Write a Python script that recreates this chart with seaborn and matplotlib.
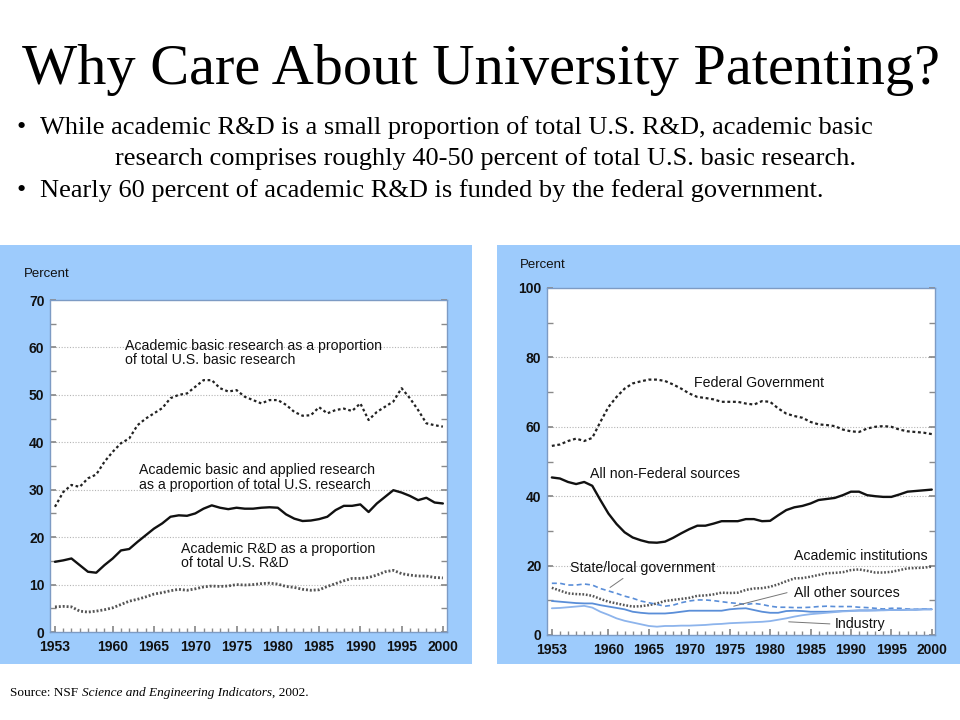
import matplotlib
matplotlib.use("Agg")
import matplotlib.pyplot as plt
import seaborn as sns
import pandas as pd
from matplotlib.patches import Rectangle

# ---- data ----
years = list(range(1953, 2001))

basic_share = [26.4, 29.5, 31.0, 30.6, 32.4, 33.2, 35.9, 38.0, 39.8, 40.8,
               43.6, 45.0, 46.1, 47.2, 49.3, 50.0, 50.3, 51.7, 53.1, 53.1,
               51.4, 50.7, 51.0, 49.6, 48.9, 48.2, 48.9, 48.9, 47.9, 46.4,
               45.6, 45.7, 47.4, 46.1, 46.8, 47.1, 46.6, 48.2, 44.7, 46.4,
               47.5, 48.6, 51.4, 49.3, 46.8, 44.0, 43.6, 43.3]
basic_applied_share = [14.8, 15.1, 15.5, 14.1, 12.7, 12.5, 14.1, 15.5, 17.2, 17.5,
                       19.0, 20.4, 21.8, 22.9, 24.3, 24.6, 24.5, 25.0, 26.0, 26.7,
                       26.2, 25.9, 26.2, 26.0, 26.0, 26.2, 26.3, 26.2, 24.8, 23.9,
                       23.4, 23.5, 23.8, 24.3, 25.7, 26.6, 26.6, 26.9, 25.3, 27.1,
                       28.5, 29.9, 29.4, 28.7, 27.8, 28.3, 27.3, 27.1]
rd_share = [5.3, 5.4, 5.3, 4.4, 4.2, 4.4, 4.7, 5.1, 5.8, 6.5,
            6.9, 7.4, 8.0, 8.3, 8.7, 9.0, 8.8, 9.1, 9.5, 9.7,
            9.6, 9.7, 10.0, 9.9, 10.0, 10.2, 10.3, 10.1, 9.6, 9.4,
            9.0, 8.8, 8.9, 9.6, 10.2, 10.8, 11.3, 11.3, 11.5, 12.0,
            12.7, 13.0, 12.3, 12.0, 11.8, 11.8, 11.5, 11.4]

federal = [54.5, 54.9, 55.9, 56.6, 55.9, 56.8, 61.4, 65.7, 68.6, 71.0,
           72.5, 73.1, 73.6, 73.6, 73.2, 72.2, 71.0, 69.6, 68.6, 68.3,
           67.9, 67.2, 67.2, 67.2, 66.7, 66.4, 67.4, 67.2, 65.3, 63.8,
           63.1, 62.6, 61.4, 60.7, 60.5, 60.2, 59.2, 58.7, 58.5, 59.5,
           60.0, 60.2, 60.0, 59.2, 58.7, 58.5, 58.3, 57.9]
non_federal = [45.4, 45.1, 44.1, 43.5, 44.1, 43.0, 38.9, 35.0, 32.0, 29.6,
               28.1, 27.3, 26.7, 26.6, 26.9, 28.0, 29.3, 30.5, 31.5, 31.5,
               32.1, 32.8, 32.8, 32.8, 33.4, 33.4, 32.8, 32.9, 34.5, 36.0,
               36.8, 37.2, 37.9, 38.9, 39.2, 39.5, 40.3, 41.3, 41.3, 40.3,
               40.0, 39.8, 39.8, 40.5, 41.3, 41.5, 41.7, 41.9]
academic_inst = [13.6, 12.8, 12.0, 11.8, 11.7, 11.3, 10.4, 9.6, 9.1, 8.6,
                 8.2, 8.3, 8.6, 9.1, 9.8, 10.1, 10.4, 10.7, 11.3, 11.4,
                 11.7, 12.2, 12.1, 12.2, 13.0, 13.4, 13.5, 13.9, 14.6, 15.5,
                 16.3, 16.4, 16.8, 17.3, 17.8, 17.9, 18.1, 18.7, 18.9, 18.5,
                 18.0, 18.0, 18.2, 18.7, 19.2, 19.3, 19.4, 19.7]
state_local = [14.9, 14.9, 14.4, 14.4, 14.7, 14.4, 13.4, 12.7, 12.0, 11.2,
               10.6, 9.8, 9.3, 8.8, 8.3, 8.6, 9.3, 9.8, 10.1, 10.1,
               9.9, 9.6, 9.3, 9.1, 8.8, 9.1, 8.8, 8.3, 8.0, 8.0,
               7.9, 7.9, 8.0, 8.2, 8.3, 8.2, 8.2, 8.2, 8.0, 7.9,
               7.7, 7.5, 7.7, 7.7, 7.5, 7.4, 7.5, 7.5]
other_sources = [9.8, 9.6, 9.4, 9.2, 9.1, 9.1, 8.6, 8.2, 7.8, 7.4,
                 6.7, 6.4, 6.2, 6.2, 6.2, 6.4, 6.7, 7.0, 7.0, 7.0,
                 7.0, 7.0, 7.4, 7.6, 7.7, 7.2, 6.7, 6.4, 6.4, 6.9,
                 7.0, 6.9, 6.7, 6.7, 6.7, 6.8, 6.9, 7.0, 7.1, 7.1,
                 7.1, 7.2, 7.2, 7.2, 7.3, 7.3, 7.4, 7.4]
industry = [7.7, 7.8, 8.0, 8.2, 8.4, 7.9, 6.7, 5.8, 4.8, 4.1,
            3.6, 3.1, 2.6, 2.4, 2.6, 2.6, 2.7, 2.7, 2.8, 2.9,
            3.1, 3.2, 3.4, 3.5, 3.6, 3.7, 3.8, 4.0, 4.4, 4.8,
            5.3, 5.7, 6.0, 6.2, 6.4, 6.6, 6.8, 6.9, 7.0, 7.0,
            7.1, 7.1, 7.2, 7.2, 7.3, 7.3, 7.4, 7.4]

year_ticks = [1953, 1960, 1965, 1970, 1975, 1980, 1985, 1990, 1995, 2000]

df = pd.DataFrame({
    "year": years, "basic": basic_share, "applied": basic_applied_share,
    "rd": rd_share, "federal": federal, "nonfed": non_federal,
    "acad": academic_inst, "state": state_local, "other": other_sources,
    "industry": industry,
})

sns.set_theme(style="white")
plt.rcParams["font.family"] = ["Liberation Sans", "DejaVu Sans"]
plt.rcParams["text.color"] = "black"

BG = "#9dcbfc"
SPINE = "#7d9bc4"

fig = plt.figure(figsize=(9.6, 7.2), dpi=100)
W, H = 960, 720


def px(x0, y0, x1, y1):
    # pixel box (top-left origin) -> figure fraction rect
    return [x0 / W, 1 - y1 / H, (x1 - x0) / W, (y1 - y0) / H]


# light blue panels
for x0, x1 in [(0, 472), (497, 960)]:
    r = px(x0, 245, x1, 664)
    fig.patches.append(Rectangle((r[0], r[1]), r[2], r[3], transform=fig.transFigure,
                                 facecolor=BG, edgecolor="none", zorder=-10))

# titles and bullets
fig.text(481 / W, 1 - 70 / H, "Why Care About University Patenting?", ha="center", va="center",
         fontsize=42, family="Liberation Serif")
bullet_kw = dict(fontsize=19, family="Liberation Serif", va="center")
fig.text(17 / W, 1 - 128 / H, "\u2022", **bullet_kw)
fig.text(40 / W, 1 - 128 / H,
         "While academic R&D is a small proportion of total U.S. R&D, academic basic", **bullet_kw)
fig.text(115 / W, 1 - 159 / H,
         "research comprises roughly 40-50 percent of total U.S. basic research.", **bullet_kw)
fig.text(17 / W, 1 - 191 / H, "\u2022", **bullet_kw)
fig.text(40 / W, 1 - 191 / H,
         "Nearly 60 percent of academic R&D is funded by the federal government.", **bullet_kw)

src = fig.text(10 / W, 1 - 693 / H, "Source: NSF ", fontsize=9.5, family="Liberation Serif",
               va="center")
src2 = fig.text(0, 0, "Science and Engineering Indicators", fontsize=9.5, style="italic",
                family="Liberation Serif", va="center")
src3 = fig.text(0, 0, ", 2002.", fontsize=9.5, family="Liberation Serif", va="center")


def style_axes(ax, ymax, ymajor, yminor, xlim):
    ax.set_facecolor("white")
    ax.set_xlim(*xlim)
    ax.set_ylim(0, ymax)
    ax.set_xticks(year_ticks)
    ax.set_xticks(years, minor=True)
    ax.set_yticks(range(0, ymax + 1, ymajor))
    ax.set_yticks(range(0, ymax + 1, yminor), minor=True)
    ax.set_xlabel("")
    ax.set_ylabel("")
    for s in ax.spines.values():
        s.set_color(SPINE)
        s.set_linewidth(1.0)
        s.set_visible(True)
    ax.tick_params(axis="both", which="both", direction="in", color="#8a8a8a",
                   labelsize=10, labelcolor="#111111")
    ax.tick_params(axis="y", which="both", right=True, left=True)
    ax.tick_params(axis="x", which="both", bottom=True, top=False)
    ax.tick_params(axis="x", which="major", length=4, pad=6)
    ax.tick_params(axis="x", which="minor", length=3)
    ax.tick_params(axis="y", which="major", length=4, pad=4)
    ax.tick_params(axis="y", which="minor", length=4)
    for lab in ax.get_xticklabels() + ax.get_yticklabels():
        lab.set_fontweight("bold")
    for v in range(ymajor, ymax, ymajor):
        ax.axhline(v, color="#b5b5b5", lw=0.8, ls=(0, (1, 1.5)), zorder=0)


# ---- left chart ----
axl = fig.add_axes(px(50, 300, 447, 632))
sns.lineplot(data=df, x="year", y="basic", ax=axl, color="#222222", lw=1.6, ls=(0, (1.2, 1.2)))
sns.lineplot(data=df, x="year", y="applied", ax=axl, color="#111111", lw=1.7)
sns.lineplot(data=df, x="year", y="rd", ax=axl, color="#555555", lw=2.0, ls=(0, (0.7, 0.7)))
style_axes(axl, 70, 10, 5, (1952.4, 2000.5))

ann = dict(fontsize=10.2, va="top", ha="left", color="#111111", linespacing=1.05)
axl.text(1961.5, 61.8, "Academic basic research as a proportion\nof total U.S. basic research", **ann)
axl.text(1963.2, 35.6, "Academic basic and applied research\nas a proportion of total U.S. research", **ann)
axl.text(1968.3, 19.0, "Academic R&D as a proportion\nof total U.S. R&D", **ann)
fig.text(24 / W, 1 - 274 / H, "Percent", fontsize=9.5, va="center", color="#111111")

# ---- right chart ----
axr = fig.add_axes(px(547, 288, 935, 635))
sns.lineplot(data=df, x="year", y="federal", ax=axr, color="#222222", lw=1.6, ls=(0, (1.3, 1.2)))
sns.lineplot(data=df, x="year", y="nonfed", ax=axr, color="#111111", lw=1.7)
sns.lineplot(data=df, x="year", y="acad", ax=axr, color="#555555", lw=1.8, ls=(0, (0.7, 0.7)))
sns.lineplot(data=df, x="year", y="state", ax=axr, color="#5a8ed8", lw=1.2, ls=(0, (3, 2)))
sns.lineplot(data=df, x="year", y="other", ax=axr, color="#5a8ed8", lw=1.3)
sns.lineplot(data=df, x="year", y="industry", ax=axr, color="#8db4ec", lw=1.3)
style_axes(axr, 100, 20, 10, (1952.4, 2000.4))

ann_c = dict(fontsize=10.2, va="center", ha="left", color="#111111")
axr.text(1970.6, 72.6, "Federal Government", **ann_c)
axr.text(1957.7, 46.3, "All non-Federal sources", **ann_c)
axr.text(1983.0, 22.7, "Academic institutions", **ann_c)
axr.text(1955.2, 19.4, "State/local government", **ann_c)
axr.text(1982.9, 12.0, "All other sources", **ann_c)
axr.text(1988.0, 3.2, "Industry", **ann_c)
lead = dict(color="#777777", lw=0.7)
axr.plot([1960.2, 1961.8], [13.7, 16.3], **lead)
axr.plot([1975.5, 1982.1], [8.3, 12.2], **lead)
axr.plot([1982.3, 1987.4], [3.8, 3.2], **lead)
fig.text(520 / W, 1 - 265 / H, "Percent", fontsize=9.5, va="center", color="#111111")

# place source pieces one after another
fig.canvas.draw()
r = fig.canvas.get_renderer()
bb = src.get_window_extent(r)
src2.set_position((bb.x1 / W, 1 - 693 / H))
fig.canvas.draw()
bb2 = src2.get_window_extent(r)
src3.set_position((bb2.x1 / W, 1 - 693 / H))

fig.savefig("out.png", dpi=100)
